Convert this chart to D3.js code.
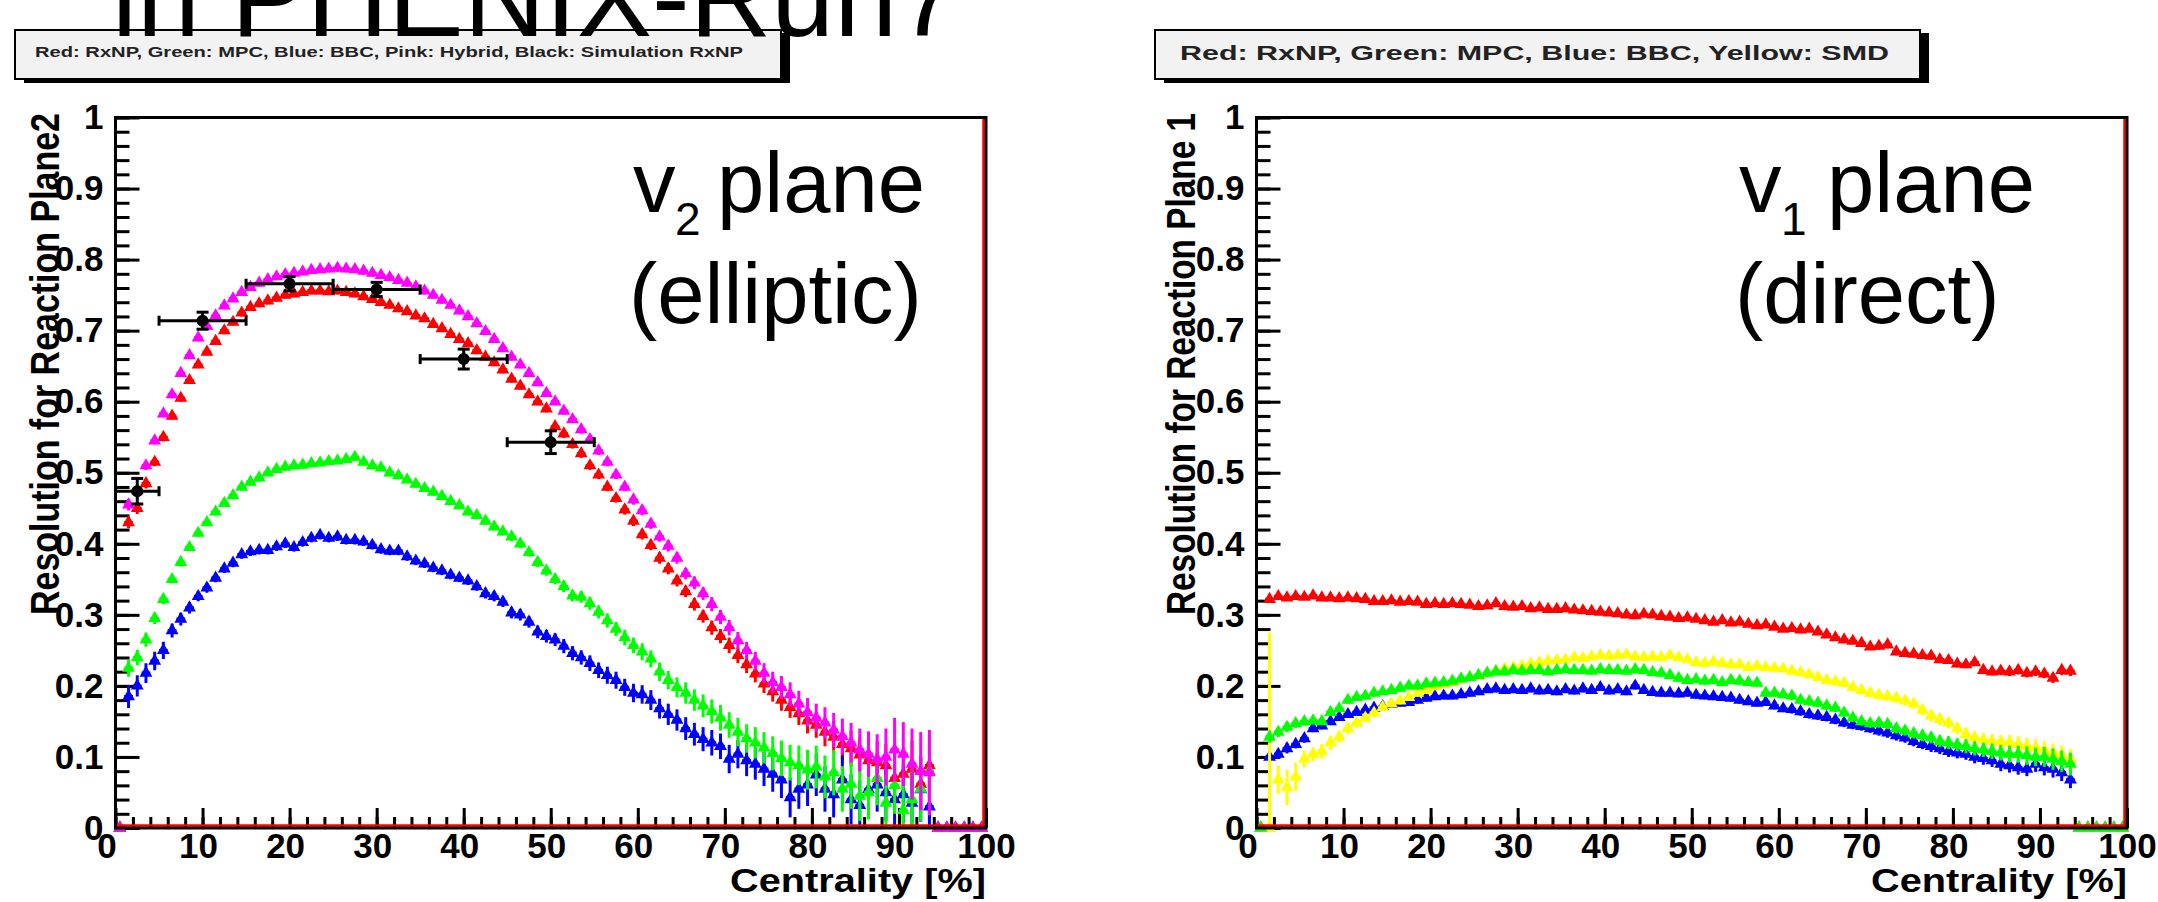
<!DOCTYPE html>
<html lang="en">
<head>
<meta charset="UTF-8">
<script src="https://d3js.org/d3.v7.min.js"></script>
<title>Reaction plane resolution in PHENIX Run7</title>
<style>
  body { margin: 0; background: #fff; }
  text { font-family: "Liberation Sans", Arial, sans-serif; }
</style>
</head>
<body>
<script>
// ---------------- data ----------------
// every histogram has 100 bins of 1 % centrality; filled bins start at 1.5 %
const xMajor = [0, 10, 20, 30, 40, 50, 60, 70, 80, 90, 100];
const yMajor = [0, 0.1, 0.2, 0.3, 0.4, 0.5, 0.6, 0.7, 0.8, 0.9, 1];

// v2 plane (left)
const v2Red = [0.43,0.45,0.485,0.515,0.55,0.58,0.605,0.63,0.652,0.67,
  0.685,0.70,0.712,0.725,0.733,0.738,0.742,0.746,0.75,0.752,
  0.754,0.756,0.756,0.755,0.756,0.754,0.752,0.748,0.744,0.74,
  0.736,0.731,0.727,0.721,0.717,0.709,0.703,0.695,0.688,0.682,
  0.672,0.663,0.655,0.645,0.632,0.622,0.61,0.6,0.59,0.565,
  0.555,0.54,0.527,0.51,0.497,0.48,0.464,0.448,0.432,0.413,
  0.398,0.38,0.365,0.348,0.333,0.315,0.298,0.282,0.27,0.257,
  0.243,0.23,0.217,0.203,0.192,0.18,0.17,0.161,0.151,0.145,
  0.135,0.128,0.118,0.112,0.103,0.095,0.092,0.088,0.07,0.076,
  0.083,0.062,0.088];
const v2RedErr = [0.008,0.008,0.007,0.006,0.006,0.005,0.005,0.005,0.005,0.005,
  0.005,0.005,0.005,0.005,0.005,0.005,0.005,0.005,0.005,0.005,
  0.005,0.005,0.005,0.005,0.005,0.005,0.005,0.005,0.005,0.005,
  0.005,0.005,0.005,0.005,0.005,0.005,0.005,0.005,0.005,0.005,
  0.005,0.005,0.005,0.005,0.005,0.005,0.005,0.005,0.005,0.006,
  0.006,0.006,0.006,0.006,0.006,0.006,0.006,0.007,0.007,0.007,
  0.007,0.008,0.008,0.008,0.008,0.009,0.009,0.01,0.01,0.011,
  0.011,0.012,0.012,0.013,0.014,0.015,0.015,0.016,0.018,0.018,
  0.02,0.022,0.022,0.025,0.025,0.028,0.03,0.03,0.035,0.035,
  0.04,0.04,0.04];

const v2Pink = [0.455,0.475,0.51,0.545,0.583,0.61,0.64,0.665,0.69,0.706,
  0.721,0.735,0.745,0.754,0.761,0.767,0.772,0.776,0.779,0.781,
  0.783,0.785,0.786,0.787,0.788,0.787,0.786,0.784,0.781,0.778,
  0.775,0.771,0.767,0.762,0.756,0.75,0.743,0.736,0.728,0.72,
  0.71,0.699,0.688,0.675,0.663,0.652,0.64,0.627,0.612,0.6,
  0.587,0.575,0.561,0.547,0.531,0.515,0.497,0.48,0.462,0.447,
  0.428,0.41,0.397,0.38,0.358,0.345,0.33,0.315,0.297,0.282,
  0.264,0.25,0.235,0.218,0.205,0.198,0.188,0.175,0.163,0.155,
  0.148,0.138,0.129,0.12,0.11,0.104,0.097,0.1,0.11,0.104,
  0.09,0.08,0.078];
const v2PinkErr = [0.008,0.007,0.006,0.005,0.005,0.005,0.005,0.005,0.005,0.005,
  0.005,0.005,0.005,0.005,0.005,0.005,0.005,0.005,0.005,0.005,
  0.005,0.005,0.005,0.005,0.005,0.005,0.005,0.005,0.005,0.005,
  0.005,0.005,0.005,0.005,0.005,0.005,0.005,0.005,0.005,0.005,
  0.005,0.005,0.005,0.005,0.005,0.005,0.005,0.005,0.005,0.005,
  0.005,0.005,0.006,0.006,0.006,0.006,0.006,0.006,0.007,0.007,
  0.007,0.007,0.008,0.008,0.008,0.009,0.009,0.01,0.01,0.011,
  0.012,0.012,0.013,0.014,0.015,0.016,0.017,0.018,0.02,0.02,
  0.022,0.024,0.025,0.028,0.03,0.032,0.035,0.04,0.045,0.045,
  0.05,0.055,0.06];

const v2Green = [0.225,0.24,0.265,0.295,0.322,0.35,0.374,0.395,0.415,0.43,
  0.445,0.457,0.468,0.48,0.487,0.493,0.5,0.505,0.508,0.51,
  0.511,0.513,0.514,0.516,0.517,0.519,0.522,0.515,0.51,0.507,
  0.5,0.496,0.49,0.484,0.478,0.473,0.467,0.46,0.454,0.445,
  0.44,0.432,0.424,0.417,0.41,0.4,0.388,0.374,0.362,0.35,
  0.34,0.327,0.325,0.316,0.304,0.292,0.28,0.268,0.257,0.248,
  0.238,0.22,0.208,0.198,0.19,0.18,0.172,0.164,0.155,0.145,
  0.135,0.126,0.12,0.113,0.105,0.098,0.092,0.088,0.082,0.086,
  0.072,0.078,0.055,0.062,0.045,0.05,0.07,0.035,0.06,0.025,
  0.04,0.055,0.08];
const v2GreenErr = [0.012,0.011,0.01,0.008,0.007,0.006,0.006,0.005,0.005,0.005,
  0.005,0.005,0.005,0.005,0.005,0.005,0.005,0.005,0.005,0.005,
  0.005,0.005,0.005,0.005,0.005,0.005,0.005,0.005,0.005,0.005,
  0.005,0.005,0.005,0.005,0.005,0.005,0.005,0.005,0.005,0.005,
  0.005,0.005,0.005,0.005,0.006,0.006,0.006,0.007,0.007,0.007,
  0.008,0.008,0.008,0.009,0.009,0.01,0.01,0.011,0.011,0.012,
  0.012,0.013,0.013,0.014,0.015,0.015,0.016,0.017,0.018,0.018,
  0.02,0.02,0.022,0.022,0.024,0.025,0.025,0.028,0.028,0.03,
  0.03,0.032,0.032,0.035,0.035,0.038,0.038,0.04,0.04,0.042,
  0.045,0.045,0.05];

const v2Blue = [0.185,0.2,0.218,0.235,0.25,0.278,0.294,0.31,0.326,0.338,
  0.352,0.365,0.373,0.385,0.389,0.391,0.391,0.396,0.4,0.395,
  0.402,0.408,0.412,0.408,0.41,0.405,0.405,0.403,0.398,0.392,
  0.39,0.39,0.382,0.376,0.372,0.366,0.362,0.356,0.352,0.348,
  0.34,0.33,0.326,0.318,0.303,0.3,0.29,0.276,0.27,0.265,
  0.256,0.246,0.24,0.232,0.222,0.215,0.208,0.198,0.19,0.188,
  0.18,0.168,0.16,0.152,0.14,0.132,0.125,0.12,0.115,0.097,
  0.104,0.095,0.09,0.083,0.076,0.068,0.043,0.055,0.061,0.075,
  0.055,0.047,0.068,0.04,0.032,0.054,0.061,0.05,0.04,0.047,
  0.035,0.054,0.03];
const v2BlueErr = [0.016,0.015,0.014,0.013,0.012,0.01,0.009,0.008,0.007,0.007,
  0.006,0.006,0.006,0.006,0.006,0.006,0.006,0.006,0.006,0.006,
  0.006,0.006,0.006,0.006,0.006,0.006,0.006,0.006,0.006,0.006,
  0.006,0.006,0.006,0.006,0.006,0.006,0.006,0.006,0.006,0.006,
  0.006,0.007,0.007,0.007,0.008,0.008,0.008,0.009,0.009,0.009,
  0.01,0.01,0.01,0.011,0.011,0.012,0.012,0.012,0.013,0.013,
  0.014,0.014,0.015,0.015,0.016,0.016,0.017,0.018,0.018,0.02,
  0.02,0.022,0.022,0.024,0.025,0.026,0.028,0.028,0.03,0.03,
  0.032,0.032,0.034,0.035,0.035,0.036,0.038,0.04,0.04,0.04,
  0.042,0.045,0.045];

// simulation RxNP (black), wide centrality classes
const simCent = [2.5, 10, 20, 30, 40, 50];
const simCentErr = [2.5, 5, 5, 5, 5, 5];
const simRes = [0.474, 0.714, 0.766, 0.758, 0.66, 0.543];
const simResErr = [0.018, 0.012, 0.01, 0.01, 0.014, 0.016];

// v1 plane (right)
const v1Red = [0.322,0.326,0.324,0.326,0.325,0.327,0.324,0.324,0.323,0.324,
  0.323,0.322,0.319,0.319,0.32,0.318,0.319,0.318,0.315,0.316,
  0.315,0.316,0.315,0.314,0.312,0.313,0.316,0.312,0.311,0.312,
  0.309,0.31,0.308,0.308,0.309,0.307,0.306,0.305,0.304,0.303,
  0.302,0.3,0.299,0.301,0.3,0.298,0.297,0.295,0.296,0.294,
  0.292,0.29,0.292,0.289,0.29,0.287,0.285,0.286,0.283,0.28,
  0.281,0.279,0.28,0.276,0.272,0.268,0.265,0.263,0.26,0.255,
  0.256,0.258,0.248,0.246,0.245,0.243,0.242,0.237,0.236,0.231,
  0.23,0.233,0.222,0.22,0.221,0.22,0.222,0.218,0.22,0.217,
  0.211,0.222,0.221];
const v1RedErr = [0.004,0.004,0.004,0.004,0.004,0.004,0.004,0.004,0.004,0.004,
  0.004,0.004,0.004,0.004,0.004,0.004,0.004,0.004,0.004,0.004,
  0.004,0.004,0.004,0.004,0.004,0.004,0.004,0.004,0.004,0.004,
  0.004,0.004,0.004,0.004,0.004,0.004,0.004,0.004,0.004,0.004,
  0.004,0.004,0.004,0.004,0.004,0.004,0.004,0.004,0.004,0.004,
  0.004,0.004,0.004,0.004,0.004,0.004,0.004,0.004,0.004,0.004,
  0.004,0.004,0.004,0.004,0.004,0.004,0.004,0.004,0.004,0.004,
  0.005,0.005,0.005,0.005,0.005,0.005,0.005,0.005,0.005,0.005,
  0.005,0.005,0.005,0.005,0.006,0.006,0.006,0.006,0.006,0.006,
  0.007,0.007,0.007];

const v1Blue = [0.1,0.104,0.112,0.118,0.126,0.14,0.144,0.15,0.156,0.16,
  0.163,0.166,0.169,0.171,0.174,0.176,0.177,0.18,0.183,0.185,
  0.186,0.186,0.188,0.19,0.192,0.195,0.196,0.194,0.195,0.194,
  0.196,0.193,0.194,0.192,0.195,0.193,0.196,0.194,0.198,0.193,
  0.195,0.192,0.2,0.194,0.191,0.19,0.19,0.189,0.19,0.187,
  0.186,0.185,0.184,0.183,0.18,0.178,0.176,0.177,0.172,0.168,
  0.167,0.164,0.16,0.158,0.156,0.152,0.148,0.145,0.143,0.14,
  0.137,0.134,0.13,0.127,0.122,0.118,0.115,0.112,0.108,0.106,
  0.104,0.1,0.098,0.095,0.09,0.088,0.085,0.083,0.09,0.085,
  0.083,0.078,0.068];
const v1BlueErr = [0.008,0.007,0.007,0.006,0.006,0.005,0.005,0.005,0.005,0.005,
  0.005,0.005,0.005,0.005,0.005,0.005,0.005,0.005,0.005,0.005,
  0.005,0.005,0.005,0.005,0.005,0.005,0.005,0.005,0.005,0.005,
  0.005,0.005,0.005,0.005,0.005,0.005,0.005,0.005,0.005,0.005,
  0.005,0.005,0.005,0.005,0.005,0.005,0.005,0.005,0.005,0.005,
  0.005,0.005,0.005,0.005,0.005,0.005,0.005,0.005,0.005,0.005,
  0.006,0.006,0.006,0.006,0.006,0.006,0.006,0.006,0.006,0.006,
  0.007,0.007,0.007,0.007,0.007,0.007,0.008,0.008,0.008,0.008,
  0.008,0.009,0.009,0.009,0.01,0.01,0.01,0.01,0.011,0.011,
  0.012,0.012,0.012];

const v1Yellow = [0.0,0.068,0.057,0.072,0.097,0.104,0.108,0.12,0.128,0.14,
  0.148,0.155,0.162,0.17,0.175,0.179,0.184,0.19,0.194,0.199,
  0.202,0.205,0.209,0.212,0.214,0.218,0.221,0.224,0.226,0.228,
  0.231,0.233,0.235,0.236,0.237,0.24,0.239,0.241,0.243,0.242,
  0.243,0.244,0.241,0.24,0.241,0.24,0.243,0.24,0.237,0.233,
  0.232,0.234,0.232,0.23,0.23,0.226,0.228,0.226,0.225,0.224,
  0.221,0.219,0.216,0.212,0.208,0.206,0.204,0.198,0.194,0.19,
  0.187,0.185,0.183,0.179,0.175,0.166,0.158,0.153,0.148,0.14,
  0.132,0.127,0.124,0.122,0.121,0.12,0.118,0.115,0.113,0.11,
  0.106,0.103,0.097];
const v1YellowErr = [0.275,0.02,0.025,0.02,0.012,0.01,0.01,0.01,0.008,0.008,
  0.007,0.006,0.006,0.005,0.005,0.005,0.005,0.005,0.005,0.005,
  0.005,0.005,0.005,0.005,0.005,0.005,0.005,0.005,0.005,0.005,
  0.005,0.005,0.005,0.005,0.005,0.005,0.005,0.005,0.005,0.005,
  0.005,0.005,0.005,0.005,0.005,0.005,0.005,0.005,0.005,0.005,
  0.005,0.005,0.005,0.005,0.005,0.005,0.005,0.005,0.005,0.005,
  0.005,0.005,0.005,0.005,0.005,0.006,0.006,0.006,0.006,0.006,
  0.006,0.006,0.007,0.007,0.007,0.007,0.008,0.008,0.008,0.008,
  0.009,0.009,0.01,0.01,0.01,0.011,0.011,0.012,0.012,0.012,
  0.013,0.013,0.014];

const v1Green = [0.128,0.135,0.142,0.147,0.15,0.151,0.15,0.163,0.168,0.18,
  0.184,0.186,0.19,0.192,0.194,0.197,0.2,0.2,0.203,0.204,
  0.205,0.207,0.21,0.212,0.215,0.218,0.22,0.22,0.222,0.221,
  0.222,0.222,0.22,0.222,0.223,0.222,0.222,0.221,0.223,0.222,
  0.222,0.221,0.223,0.222,0.219,0.218,0.215,0.211,0.208,0.209,
  0.207,0.208,0.205,0.208,0.207,0.205,0.204,0.19,0.19,0.188,
  0.186,0.18,0.178,0.176,0.172,0.169,0.162,0.155,0.15,0.147,
  0.148,0.146,0.14,0.137,0.133,0.13,0.127,0.122,0.12,0.117,
  0.115,0.112,0.11,0.108,0.106,0.104,0.104,0.102,0.1,0.1,
  0.097,0.094,0.09];
const v1GreenErr = [0.008,0.007,0.007,0.006,0.006,0.005,0.005,0.005,0.005,0.005,
  0.005,0.005,0.005,0.005,0.005,0.005,0.005,0.005,0.005,0.005,
  0.005,0.005,0.005,0.005,0.005,0.005,0.005,0.005,0.005,0.005,
  0.005,0.005,0.005,0.005,0.005,0.005,0.005,0.005,0.005,0.005,
  0.005,0.005,0.005,0.005,0.005,0.005,0.005,0.005,0.005,0.005,
  0.005,0.005,0.005,0.005,0.005,0.005,0.005,0.005,0.005,0.005,
  0.006,0.006,0.006,0.006,0.006,0.006,0.006,0.006,0.006,0.006,
  0.007,0.007,0.007,0.007,0.007,0.008,0.008,0.008,0.009,0.009,
  0.01,0.01,0.01,0.011,0.011,0.012,0.012,0.013,0.013,0.014,
  0.015,0.015,0.016];

// ---------------- drawing ----------------
const W = 2158, H = 902;
const yTop = 117.5, yBase = 828;
const font = "'Liberation Sans', Arial, sans-serif";

const svg = d3.select("body").append("svg")
  .attr("width", W).attr("height", H)
  .style("display", "block");
svg.append("rect").attr("width", W).attr("height", H).attr("fill", "#fff");

// 100 bins of 1 %, bin 0 and the bins after the data are empty
function binsOf(vals, errs) {
  return d3.range(100).map(i => {
    const k = i - 1;
    const filled = k >= 0 && k < vals.length;
    return { c: i + 0.5, v: filled ? vals[k] : 0, e: filled ? errs[k] : 0 };
  });
}

const triangle = d3.symbol().type(d3.symbolTriangle).size(72);

function drawPanel(p) {
  const x = d3.scaleLinear().domain([0, 100]).range([p.x0, p.x1]);
  const y = d3.scaleLinear().domain([0, 1]).range([yBase, yTop]);
  const g = svg.append("g");

  svg.append("clipPath").attr("id", p.id)
    .append("rect")
    .attr("x", p.x0).attr("y", yTop)
    .attr("width", p.x1 - p.x0).attr("height", yBase - yTop);

  // minor ticks (inside the frame)
  const yMinor = d3.range(0, 1.001, 0.02);
  const xMinor = d3.range(0, 100.1, 2);
  g.append("g").attr("transform", `translate(${p.x0},0)`)
    .call(d3.axisLeft(y).tickValues(yMinor).tickSize(-14).tickFormat(""));
  g.append("g").attr("transform", `translate(0,${yBase})`)
    .call(d3.axisBottom(x).tickValues(xMinor).tickSize(-11).tickFormat(""));

  // major ticks with labels
  g.append("g").attr("class", "ylab").attr("transform", `translate(${p.x0},0)`)
    .call(d3.axisLeft(y).tickValues(yMajor).tickSize(-24).tickPadding(12)
      .tickFormat(d3.format("~g")));
  g.append("g").attr("class", "xlab").attr("transform", `translate(0,${yBase})`)
    .call(d3.axisBottom(x).tickValues(xMajor).tickSize(-20).tickPadding(5)
      .tickFormat(d3.format("~g")));

  g.selectAll(".domain").remove();
  g.selectAll(".tick line").attr("stroke", "#000").attr("stroke-width", 3);
  g.selectAll(".tick text")
    .attr("font-family", font).attr("font-size", 35)
    .attr("font-weight", "bold").attr("fill", "#000");
  g.selectAll(".xlab .tick text")
    .attr("dx", d => -9 + 4.5 * (String(d).length - 1));

  // histograms: bin-width bars, error bars, triangle markers
  p.series.forEach(s => {
    const bins = binsOf(s.vals, s.errs);
    const sg = g.append("g");
    const eg = sg.append("g").attr("clip-path", `url(#${p.id})`)
      .attr("stroke", s.color).attr("stroke-width", 3);
    eg.selectAll("line.h").data(bins).join("line").attr("class", "h")
      .attr("x1", d => x(d.c - 0.5)).attr("x2", d => x(d.c + 0.5))
      .attr("y1", d => y(d.v)).attr("y2", d => y(d.v));
    eg.selectAll("line.v").data(bins.filter(d => d.e > 0)).join("line").attr("class", "v")
      .attr("x1", d => x(d.c)).attr("x2", d => x(d.c))
      .attr("y1", d => y(d.v - d.e)).attr("y2", d => y(d.v + d.e));
    sg.selectAll("path").data(bins).join("path")
      .attr("d", triangle)
      .attr("transform", d => `translate(${x(d.c)},${y(d.v)})`)
      .attr("fill", s.color);
  });

  // simulation points (black) with end caps
  if (p.sim) {
    const sim = simCent.map((c, i) => ({ c, ce: simCentErr[i], v: simRes[i], e: simResErr[i] }));
    const bg = g.append("g").attr("stroke", "#000").attr("stroke-width", 3);
    sim.forEach(d => {
      const cx = x(d.c), cy = y(d.v);
      bg.append("line").attr("x1", x(d.c - d.ce)).attr("x2", x(d.c + d.ce)).attr("y1", cy).attr("y2", cy);
      bg.append("line").attr("x1", cx).attr("x2", cx).attr("y1", y(d.v - d.e)).attr("y2", y(d.v + d.e));
      [x(d.c - d.ce), x(d.c + d.ce)].forEach(ex =>
        bg.append("line").attr("x1", ex).attr("x2", ex).attr("y1", cy - 5).attr("y2", cy + 5));
      [y(d.v - d.e), y(d.v + d.e)].forEach(ey =>
        bg.append("line").attr("x1", cx - 6).attr("x2", cx + 6).attr("y1", ey).attr("y2", ey));
      bg.append("circle").attr("cx", cx).attr("cy", cy).attr("r", 4.5).attr("fill", "#000");
    });
  }

  // red outline of the first histogram at zero and at 100 %
  g.append("line").attr("x1", p.x0).attr("x2", p.x1 - 2)
    .attr("y1", yBase - 2.5).attr("y2", yBase - 2.5)
    .attr("stroke", "#f00").attr("stroke-width", 2.5);
  g.append("line").attr("x1", p.x1 - 2.5).attr("x2", p.x1 - 2.5)
    .attr("y1", yBase).attr("y2", yTop)
    .attr("stroke", "#f00").attr("stroke-width", 2.5);

  // frame
  g.append("rect")
    .attr("x", p.x0).attr("y", yTop)
    .attr("width", p.x1 - p.x0).attr("height", yBase - yTop)
    .attr("fill", "none").attr("stroke", "#000").attr("stroke-width", 3);

  // axis titles
  g.append("text")
    .attr("x", p.x1).attr("y", 892)
    .attr("text-anchor", "end")
    .attr("font-family", font).attr("font-size", 34).attr("font-weight", "bold")
    .attr("textLength", 256).attr("lengthAdjust", "spacingAndGlyphs")
    .text("Centrality [%]");
  g.append("text")
    .attr("transform", `translate(${p.yTitleX},113) rotate(-90)`)
    .attr("text-anchor", "end")
    .attr("font-family", font).attr("font-size", 41).attr("font-weight", "bold")
    .attr("textLength", 502).attr("lengthAdjust", "spacingAndGlyphs")
    .text(p.yTitle);

  // plane annotation
  const a = g.append("text").attr("font-family", font).attr("fill", "#000");
  a.append("tspan").attr("x", p.ax).attr("y", 212).attr("font-size", 85).text("v");
  a.append("tspan").attr("x", p.ax + 42).attr("y", 235).attr("font-size", 46).text(p.sub);
  a.append("tspan").attr("x", p.ax + p.planeDx).attr("y", 212).attr("font-size", 85).text("plane");
  g.append("text").attr("x", p.ax - 4).attr("y", 323)
    .attr("font-family", font).attr("font-size", 85).text(p.kind);

  // legend box with shadow
  const lg = svg.append("g");
  lg.append("rect").attr("x", p.legX + 9).attr("y", 33)
    .attr("width", p.legW).attr("height", 50).attr("fill", "#000");
  lg.append("rect").attr("x", p.legX).attr("y", 30)
    .attr("width", p.legW).attr("height", 49)
    .attr("fill", "#f2f2f2").attr("stroke", "#000").attr("stroke-width", 2);
  lg.append("text")
    .attr("x", p.legTextX).attr("y", p.legBase)
    .attr("font-family", font).attr("font-size", p.legSize).attr("font-weight", "bold")
    .attr("fill", "#222")
    .attr("textLength", p.legLen).attr("lengthAdjust", "spacingAndGlyphs")
    .text(p.legend);
}

drawPanel({
  id: "clipL", x0: 115.5, x1: 986,
  series: [
    { color: "#ff0000", vals: v2Red, errs: v2RedErr },
    { color: "#0000ff", vals: v2Blue, errs: v2BlueErr },
    { color: "#00ff00", vals: v2Green, errs: v2GreenErr },
    { color: "#ff00ff", vals: v2Pink, errs: v2PinkErr }
  ],
  sim: true,
  yTitle: "Resolution for Reaction Plane2", yTitleX: 59,
  ax: 633, sub: "2", planeDx: 84, kind: "(elliptic)",
  legX: 15, legW: 766, legTextX: 35, legBase: 57, legSize: 14, legLen: 708,
  legend: "Red: RxNP, Green: MPC, Blue: BBC, Pink: Hybrid, Black: Simulation RxNP"
});

drawPanel({
  id: "clipR", x0: 1256.5, x1: 2127,
  series: [
    { color: "#ff0000", vals: v1Red, errs: v1RedErr },
    { color: "#0000ff", vals: v1Blue, errs: v1BlueErr },
    { color: "#ffff00", vals: v1Yellow, errs: v1YellowErr },
    { color: "#00ff00", vals: v1Green, errs: v1GreenErr }
  ],
  sim: false,
  yTitle: "Resolution for Reaction Plane 1", yTitleX: 1195,
  ax: 1739, sub: "1", planeDx: 88, kind: "(direct)",
  legX: 1155, legW: 765, legTextX: 1180, legBase: 60, legSize: 21, legLen: 709,
  legend: "Red: RxNP, Green: MPC, Blue: BBC, Yellow: SMD"
});

// slide title, cut off by the top edge
svg.append("text")
  .attr("x", 112).attr("y", 36)
  .attr("font-family", font).attr("font-size", 113)
  .text("in PHENIX-Run7");
</script>
</body>
</html>
